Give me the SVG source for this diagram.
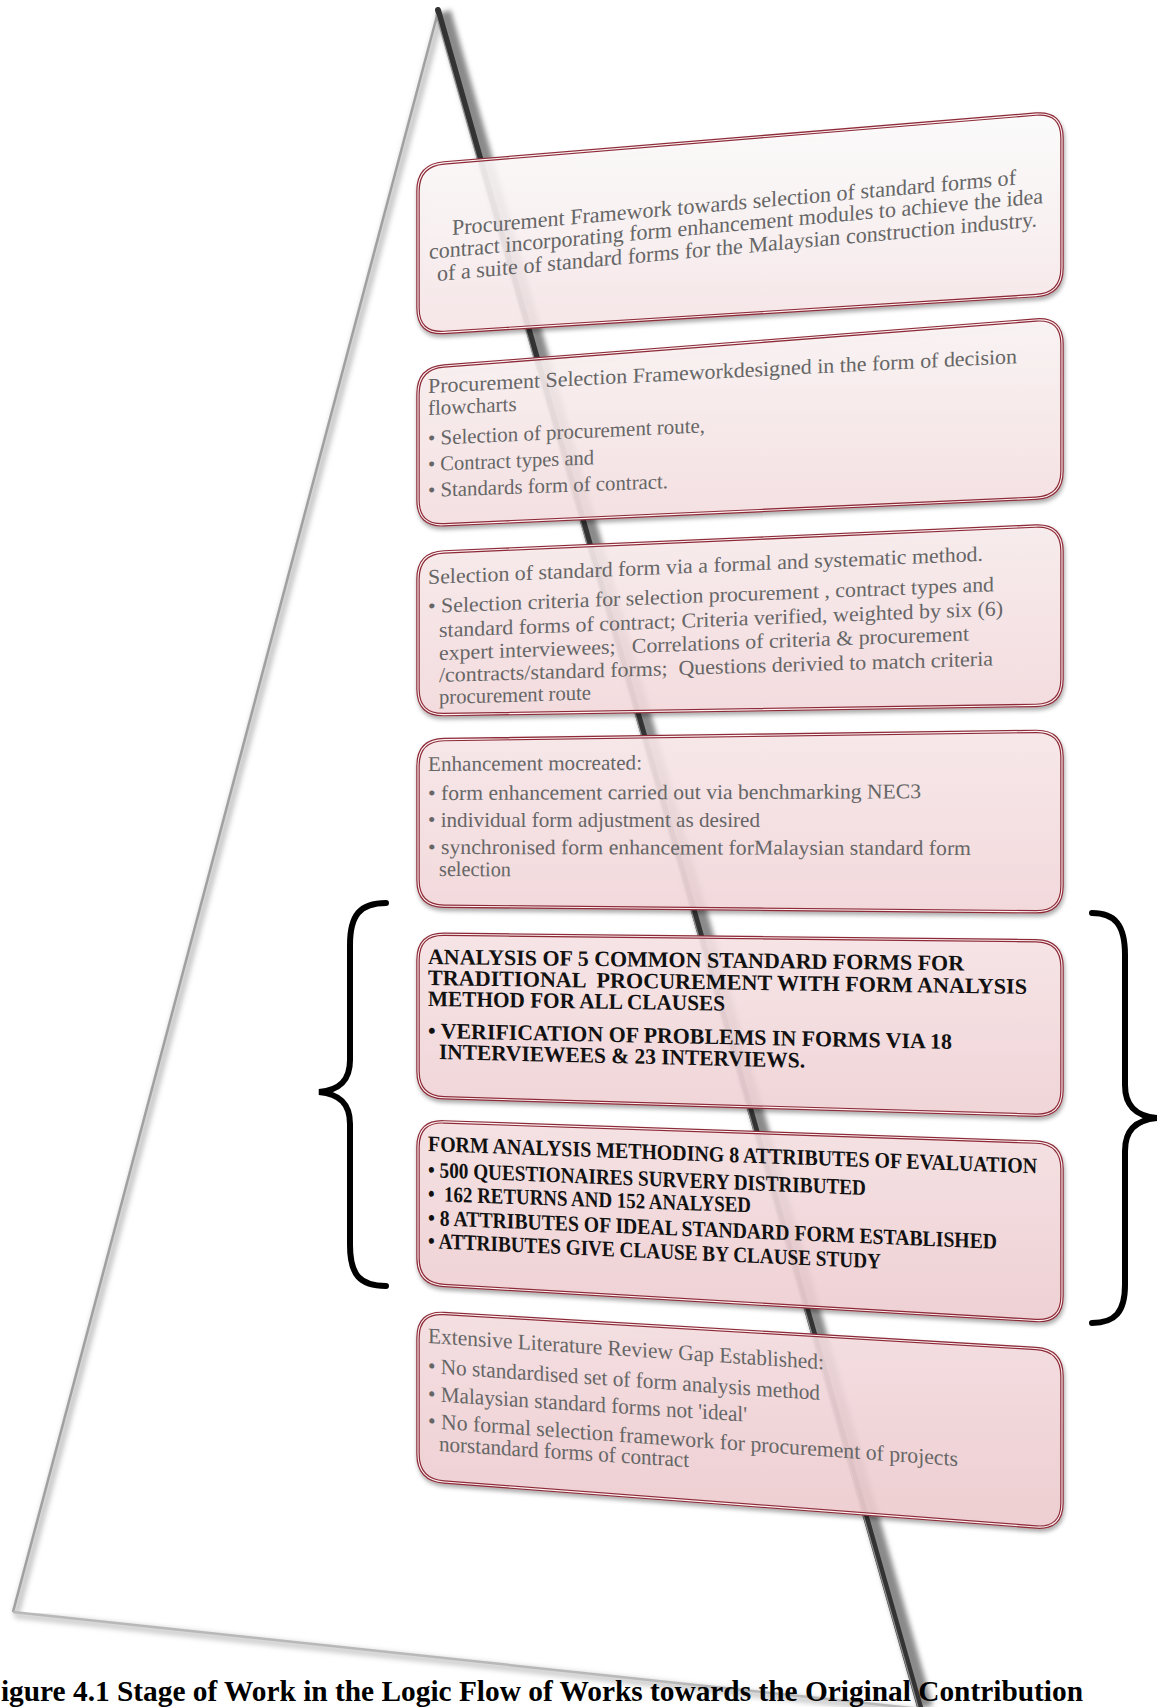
<svg xmlns="http://www.w3.org/2000/svg" width="1157" height="1707" viewBox="0 0 1157 1707">
<style>
.box{stroke:#8e2c38;stroke-width:3.5;fill-opacity:0.88}
.hl{fill:none;stroke:#fbf3f4;stroke-width:1.1}
.t{font-family:"Liberation Serif","Times New Roman",serif;font-size:21px;fill:#666;white-space:pre}
.t1{font-size:22px}
.b{font-family:"Liberation Serif","Times New Roman",serif;font-size:22px;font-weight:bold;fill:#111;white-space:pre}
.cap{font-family:"Liberation Serif","Times New Roman",serif;font-size:30px;font-weight:bold;fill:#000}
.brace{fill:none;stroke:#000;stroke-width:6;stroke-linecap:round}
</style>
<defs>
<filter id="sh" x="-5%" y="-5%" width="110%" height="115%"><feDropShadow dx="1" dy="3" stdDeviation="2" flood-color="#000" flood-opacity="0.35"/></filter>
<filter id="blur" x="-20%" y="-2%" width="140%" height="104%"><feGaussianBlur stdDeviation="2.5"/></filter>
<linearGradient id="g1" x1="0" y1="0" x2="0" y2="1"><stop offset="0" stop-color="#ffffff"/><stop offset="1" stop-color="#f9e8ea"/></linearGradient>
<linearGradient id="g2" x1="0" y1="0" x2="0" y2="1"><stop offset="0" stop-color="#fdf6f6"/><stop offset="1" stop-color="#f7e1e3"/></linearGradient>
<linearGradient id="g3" x1="0" y1="0" x2="0" y2="1"><stop offset="0" stop-color="#fbeff0"/><stop offset="1" stop-color="#f6dcdf"/></linearGradient>
<linearGradient id="g4" x1="0" y1="0" x2="0" y2="1"><stop offset="0" stop-color="#faeaec"/><stop offset="1" stop-color="#f5d9dc"/></linearGradient>
<linearGradient id="g5" x1="0" y1="0" x2="0" y2="1"><stop offset="0" stop-color="#f9e6e8"/><stop offset="1" stop-color="#f3d5d8"/></linearGradient>
<linearGradient id="g6" x1="0" y1="0" x2="0" y2="1"><stop offset="0" stop-color="#f8e3e5"/><stop offset="1" stop-color="#f1d0d4"/></linearGradient>
<linearGradient id="g7" x1="0" y1="0" x2="0" y2="1"><stop offset="0" stop-color="#f7e0e3"/><stop offset="1" stop-color="#f0cdd1"/></linearGradient>
</defs>
<rect width="1157" height="1707" fill="#fff"/>

<g id="pyramid">
  <line x1="441" y1="14" x2="16" y2="1614" stroke="#c8c8c8" stroke-width="7" filter="url(#blur)"/>
  <line x1="438" y1="12" x2="13" y2="1612" stroke="#a0a0a0" stroke-width="2.5"/>
  <line x1="15" y1="1615" x2="932" y2="1713" stroke="#cfcfcf" stroke-width="7" filter="url(#blur)"/>
  <line x1="13" y1="1612" x2="930" y2="1710" stroke="#b8b8b8" stroke-width="2.5"/>
  <line x1="444" y1="12" x2="926" y2="1707" stroke="#8a8a8a" stroke-width="14" filter="url(#blur)"/>
  <line x1="438" y1="10" x2="920" y2="1707" stroke="#333" stroke-width="6" stroke-linecap="round"/>
  <line x1="436" y1="14" x2="918" y2="1707" stroke="#909090" stroke-width="1.2"/>
</g>

<g id="node-1">
  <path class="box" fill="url(#g1)" filter="url(#sh)" d="M418,191 Q418,165 444,162.9 L1036,114.1 Q1062,112 1062,138 L1062,268 Q1062,294 1036,295.6 L444,332.4 Q418,334 418,308 Z"/>
  <path class="hl" d="M418,191 Q418,165 444,162.9 L1036,114.1 Q1062,112 1062,138 L1062,268 Q1062,294 1036,295.6 L444,332.4 Q418,334 418,308 Z"/>
  <text class="t t1" transform="translate(452,235) skewY(-5.1)" textLength="564" lengthAdjust="spacingAndGlyphs">Procurement Framework towards selection of standard forms of</text>
  <text class="t t1" transform="translate(429,259) skewY(-5.2)" textLength="614" lengthAdjust="spacingAndGlyphs">contract incorporating form enhancement modules to achieve the idea</text>
  <text class="t t1" transform="translate(437,281) skewY(-5.2)" textLength="600" lengthAdjust="spacingAndGlyphs">of a suite of standard forms for the Malaysian construction industry.</text>
</g>

<g id="node-2">
  <path class="box" fill="url(#g2)" filter="url(#sh)" d="M418,394 Q418,368 444,366 L1036,320 Q1062,318 1062,344 L1062,471 Q1062,497 1036,498.2 L444,524.8 Q418,526 418,500 Z"/>
  <path class="hl" d="M418,394 Q418,368 444,366 L1036,320 Q1062,318 1062,344 L1062,471 Q1062,497 1036,498.2 L444,524.8 Q418,526 418,500 Z"/>
  <text class="t" transform="translate(428,393) skewY(-2.9)" textLength="589" lengthAdjust="spacingAndGlyphs">Procurement Selection Frameworkdesigned in the form of decision</text>
  <text class="t" transform="translate(428,415) skewY(-2.7)">flowcharts</text>
  <text class="t" transform="translate(428,445) skewY(-2.6)" textLength="277" lengthAdjust="spacingAndGlyphs">• Selection of procurement route,</text>
  <text class="t" transform="translate(428,471) skewY(-2.3)" textLength="166" lengthAdjust="spacingAndGlyphs">• Contract types and</text>
  <text class="t" transform="translate(428,497) skewY(-2.1)" textLength="240" lengthAdjust="spacingAndGlyphs">• Standards form of contract.</text>
</g>

<g id="node-3">
  <path class="box" fill="url(#g3)" filter="url(#sh)" d="M418,579 Q418,553 444,551.9 L1036,526.1 Q1062,525 1062,551 L1062,679 Q1062,705 1036,705.4 L444,714.6 Q418,715 418,689 Z"/>
  <path class="hl" d="M418,579 Q418,553 444,551.9 L1036,526.1 Q1062,525 1062,551 L1062,679 Q1062,705 1036,705.4 L444,714.6 Q418,715 418,689 Z"/>
  <text class="t" transform="translate(428,584) skewY(-2.4)" textLength="555" lengthAdjust="spacingAndGlyphs">Selection of standard form via a formal and systematic method.</text>
  <text class="t" transform="translate(428,613) skewY(-2.2)" textLength="566" lengthAdjust="spacingAndGlyphs">• Selection criteria for selection procurement , contract types and</text>
  <text class="t" transform="translate(439,637) skewY(-2.2)" textLength="564" lengthAdjust="spacingAndGlyphs">standard forms of contract; Criteria verified, weighted by six (6)</text>
  <text class="t" transform="translate(439,660) skewY(-2.1)" textLength="530" lengthAdjust="spacingAndGlyphs">expert interviewees;   Correlations of criteria &amp; procurement</text>
  <text class="t" transform="translate(439,682) skewY(-1.7)" textLength="554" lengthAdjust="spacingAndGlyphs">/contracts/standard forms;  Questions derivied to match criteria</text>
  <text class="t" transform="translate(439,704) skewY(-1.7)" textLength="152" lengthAdjust="spacingAndGlyphs">procurement route</text>
</g>

<g id="node-4">
  <path class="box" fill="url(#g4)" filter="url(#sh)" d="M418,766 Q418,740 444,739.6 L1036,731.4 Q1062,731 1062,757 L1062,886 Q1062,912 1036,911.8 L444,906.2 Q418,906 418,880 Z"/>
  <path class="hl" d="M418,766 Q418,740 444,739.6 L1036,731.4 Q1062,731 1062,757 L1062,886 Q1062,912 1036,911.8 L444,906.2 Q418,906 418,880 Z"/>
  <text class="t" transform="translate(428,771) skewY(-0.4)" textLength="214" lengthAdjust="spacingAndGlyphs">Enhancement mocreated:</text>
  <text class="t" transform="translate(428,800) skewY(-0.2)" textLength="493" lengthAdjust="spacingAndGlyphs">• form enhancement carried out via benchmarking NEC3</text>
  <text class="t" transform="translate(428,827)" textLength="332" lengthAdjust="spacingAndGlyphs">• individual form adjustment as desired</text>
  <text class="t" transform="translate(428,854) skewY(0.1)" textLength="543" lengthAdjust="spacingAndGlyphs">• synchronised form enhancement forMalaysian standard form</text>
  <text class="t" transform="translate(439,876) skewY(0.2)" textLength="72" lengthAdjust="spacingAndGlyphs">selection</text>
</g>

<g id="node-5">
  <path class="box" fill="url(#g5)" filter="url(#sh)" d="M418,960 Q418,934 444,934.3 L1036,940.7 Q1062,941 1062,967 L1062,1090 Q1062,1116 1036,1115.2 L444,1097.8 Q418,1097 418,1071 Z"/>
  <path class="hl" d="M418,960 Q418,934 444,934.3 L1036,940.7 Q1062,941 1062,967 L1062,1090 Q1062,1116 1036,1115.2 L444,1097.8 Q418,1097 418,1071 Z"/>
  <text class="b" transform="translate(428,964) skewY(0.7)" textLength="536" lengthAdjust="spacingAndGlyphs">ANALYSIS OF 5 COMMON STANDARD FORMS FOR</text>
  <text class="b" transform="translate(428,985) skewY(0.85)" textLength="599" lengthAdjust="spacingAndGlyphs">TRADITIONAL  PROCUREMENT WITH FORM ANALYSIS</text>
  <text class="b" transform="translate(428,1006) skewY(0.9)" textLength="297" lengthAdjust="spacingAndGlyphs">METHOD FOR ALL CLAUSES</text>
  <text class="b" transform="translate(428,1038) skewY(1.2)" textLength="524" lengthAdjust="spacingAndGlyphs">• VERIFICATION OF PROBLEMS IN FORMS VIA 18</text>
  <text class="b" transform="translate(439,1059) skewY(1.35)" textLength="366" lengthAdjust="spacingAndGlyphs">INTERVIEWEES &amp; 23 INTERVIEWS.</text>
</g>

<g id="node-6">
  <path class="box" fill="url(#g6)" filter="url(#sh)" d="M418,1147 Q418,1121 444,1121.9 L1036,1142.1 Q1062,1143 1062,1169 L1062,1296 Q1062,1322 1036,1320.5 L444,1285.5 Q418,1284 418,1258 Z"/>
  <path class="hl" d="M418,1147 Q418,1121 444,1121.9 L1036,1142.1 Q1062,1143 1062,1169 L1062,1296 Q1062,1322 1036,1320.5 L444,1285.5 Q418,1284 418,1258 Z"/>
  <text class="b" transform="translate(428,1151) skewY(2.1)" textLength="609" lengthAdjust="spacingAndGlyphs">FORM ANALYSIS METHODING 8 ATTRIBUTES OF EVALUATION</text>
  <text class="b" transform="translate(428,1177) skewY(2.35)" textLength="438" lengthAdjust="spacingAndGlyphs">• 500 QUESTIONAIRES SURVERY DISTRIBUTED</text>
  <text class="b" transform="translate(428,1201) skewY(2.0)" textLength="323" lengthAdjust="spacingAndGlyphs">•  162 RETURNS AND 152 ANALYSED</text>
  <text class="b" transform="translate(428,1225) skewY(2.4)" textLength="569" lengthAdjust="spacingAndGlyphs">• 8 ATTRIBUTES OF IDEAL STANDARD FORM ESTABLISHED</text>
  <text class="b" transform="translate(428,1248) skewY(2.6)" textLength="453" lengthAdjust="spacingAndGlyphs">• ATTRIBUTES GIVE CLAUSE BY CLAUSE STUDY</text>
</g>

<g id="node-7">
  <path class="box" fill="url(#g7)" filter="url(#sh)" d="M418,1338 Q418,1312 444,1313.5 L1036,1348.5 Q1062,1350 1062,1376 L1062,1503 Q1062,1529 1036,1527 L444,1482 Q418,1480 418,1454 Z"/>
  <path class="hl" d="M418,1338 Q418,1312 444,1313.5 L1036,1348.5 Q1062,1350 1062,1376 L1062,1503 Q1062,1529 1036,1527 L444,1482 Q418,1480 418,1454 Z"/>
  <text class="t t1" transform="translate(428,1343) skewY(3.8)" textLength="396" lengthAdjust="spacingAndGlyphs">Extensive Literature Review Gap Established:</text>
  <text class="t t1" transform="translate(428,1373) skewY(3.95)" textLength="392" lengthAdjust="spacingAndGlyphs">• No standardised set of form analysis method</text>
  <text class="t t1" transform="translate(428,1401) skewY(3.7)" textLength="319" lengthAdjust="spacingAndGlyphs">• Malaysian standard forms not 'ideal'</text>
  <text class="t t1" transform="translate(428,1428) skewY(4.1)" textLength="530" lengthAdjust="spacingAndGlyphs">• No formal selection framework for procurement of projects</text>
  <text class="t t1" transform="translate(439,1451) skewY(3.7)" textLength="250" lengthAdjust="spacingAndGlyphs">norstandard forms of contract</text>
</g>

<g id="braces">
  <path class="brace" d="M386,903 C360,903 350,915 350,945 L350,1060 C350,1080 340,1090 319,1092 C340,1094 350,1104 350,1124 L350,1245 C350,1275 360,1286 386,1286"/>
  <path class="brace" d="M1092,913 C1115,913 1125,925 1125,955 L1125,1085 C1125,1105 1135,1116 1157,1118 C1135,1120 1125,1131 1125,1151 L1125,1285 C1125,1312 1115,1323 1092,1323"/>
</g>

<text class="cap" x="-17" y="1701" textLength="1100" lengthAdjust="spacingAndGlyphs">Figure 4.1 Stage of Work in the Logic Flow of Works towards the Original Contribution</text>
</svg>
